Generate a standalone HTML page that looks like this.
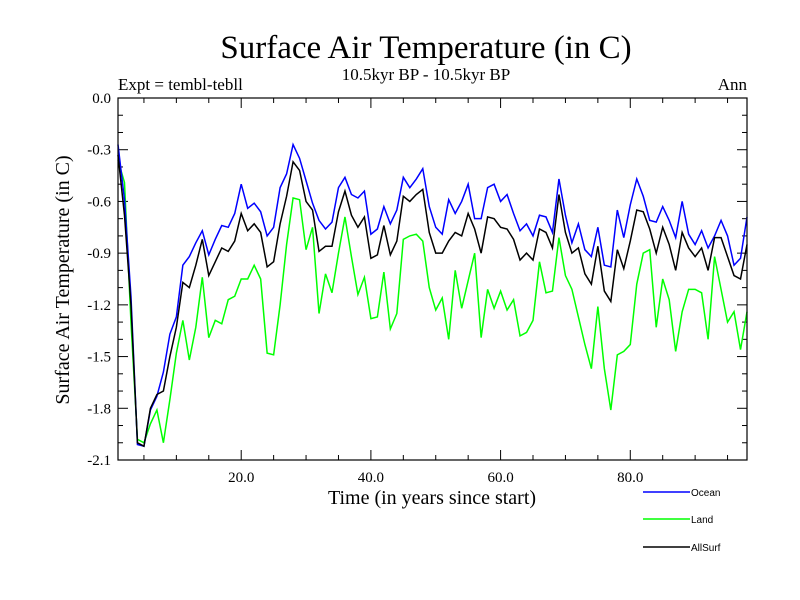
<!DOCTYPE html>
<html><head><meta charset="utf-8"><style>
body{margin:0;background:#fff;}
svg{display:block;font-family:"Liberation Serif",serif;}
</style></head><body>
<svg id="chart" width="800" height="600" viewBox="0 0 800 600">
<rect width="800" height="600" fill="#fff"/>
<text x="426" y="58" font-size="33" text-anchor="middle">Surface Air Temperature (in C)</text>
<text x="426" y="80" font-size="17" text-anchor="middle">10.5kyr BP - 10.5kyr BP</text>
<text x="118" y="90" font-size="17">Expt = tembl-tebll</text>
<text x="747" y="90" font-size="17" text-anchor="end">Ann</text>
<text transform="translate(69,280) rotate(-90)" font-size="20" text-anchor="middle">Surface Air Temperature (in C)</text>
<text x="432" y="504" font-size="20" text-anchor="middle">Time (in years since start)</text>
<g id="ticks"></g>
<g id="series"></g>
<rect x="118" y="98" width="629" height="362" fill="none" stroke="#000" stroke-width="1.2"/>
<g font-family="Liberation Sans, sans-serif" font-size="10">
<g><line x1="643" y1="492" x2="690" y2="492" stroke="#0000ff" stroke-width="1.5"/><text x="691" y="496">Ocean</text></g>
<g><line x1="643" y1="519" x2="690" y2="519" stroke="#00ff00" stroke-width="1.5"/><text x="691" y="523">Land</text></g>
<g><line x1="643" y1="547" x2="690" y2="547" stroke="#000" stroke-width="1.5"/><text x="691" y="551">AllSurf</text></g>
</g>
</svg>
<script>
const ocean=[-0.27,-0.59,-1.15,-2.01,-2.02,-1.81,-1.73,-1.59,-1.37,-1.27,-0.97,-0.92,-0.84,-0.77,-0.91,-0.82,-0.74,-0.75,-0.67,-0.50,-0.64,-0.61,-0.66,-0.80,-0.75,-0.52,-0.44,-0.27,-0.35,-0.48,-0.61,
-0.71,-0.76,-0.72,-0.52,-0.46,-0.56,-0.58,-0.54,-0.79,-0.76,-0.63,-0.73,-0.65,-0.46,-0.52,-0.47,-0.41,-0.63,-0.75,-0.79,-0.59,-0.67,-0.6,-0.5,-0.7,-0.7,-0.52,-0.5,-0.6,-0.56,-0.67,-0.77,-0.73,-0.8,
-0.68,-0.69,-0.78,-0.47,-0.68,-0.84,-0.73,-0.88,-0.92,-0.75,-0.97,-0.98,-0.65,-0.81,-0.62,-0.47,-0.57,-0.71,-0.72,-0.63,-0.71,-0.81,-0.6,-0.79,-0.85,-0.77,-0.87,-0.8,-0.71,-0.8,-0.97,-0.93,-0.69];
const allsurf=[-0.33,-0.68,-1.2,-2.0,-2.02,-1.8,-1.72,-1.70,-1.50,-1.33,-1.07,-1.1,-0.97,-0.82,-1.03,-0.95,-0.87,-0.89,-0.83,-0.67,-0.77,-0.73,-0.78,-0.98,-0.95,-0.73,-0.57,-0.37,-0.42,-0.6,-0.65,
-0.89,-0.86,-0.86,-0.66,-0.54,-0.68,-0.75,-0.69,-0.93,-0.91,-0.74,-0.91,-0.83,-0.57,-0.6,-0.56,-0.53,-0.78,-0.9,-0.9,-0.83,-0.78,-0.8,-0.67,-0.76,-0.9,-0.69,-0.7,-0.75,-0.76,-0.82,-0.94,-0.9,-0.94,
-0.76,-0.78,-0.87,-0.56,-0.78,-0.90,-0.87,-1.02,-1.08,-0.86,-1.12,-1.18,-0.88,-0.99,-0.83,-0.65,-0.66,-0.76,-0.90,-0.75,-0.85,-1.0,-0.78,-0.87,-0.92,-0.87,-1.0,-0.81,-0.81,-0.92,-1.03,-1.05,-0.85];
const land=[-0.36,-0.49,-1.3,-1.98,-2.0,-1.89,-1.81,-2.0,-1.75,-1.48,-1.29,-1.52,-1.33,-1.04,-1.39,-1.29,-1.31,-1.17,-1.15,-1.05,-1.05,-0.97,-1.05,-1.48,-1.49,-1.2,-0.85,-0.58,-0.59,-0.88,-0.75,
-1.25,-1.02,-1.13,-0.9,-0.69,-0.92,-1.14,-1.04,-1.28,-1.27,-1.01,-1.34,-1.25,-0.82,-0.8,-0.79,-0.83,-1.1,-1.23,-1.16,-1.4,-1.0,-1.22,-1.06,-0.9,-1.39,-1.11,-1.22,-1.12,-1.23,-1.17,-1.38,-1.36,-1.29,
-0.95,-1.13,-1.12,-0.81,-1.03,-1.11,-1.27,-1.43,-1.57,-1.21,-1.57,-1.81,-1.49,-1.47,-1.43,-1.08,-0.9,-0.88,-1.33,-1.05,-1.17,-1.47,-1.24,-1.11,-1.11,-1.13,-1.40,-0.92,-1.11,-1.30,-1.24,-1.46,-1.24];
const xTickLabels=[20,40,60,80];
const yTickLabels=[0.0,-0.3,-0.6,-0.9,-1.2,-1.5,-1.8,-2.1];
const X0=118,X1=747,Y0=98,Y1=460,XMIN=1,XMAX=98,YMIN=-2.1,YMAX=0;
const xs=v=>X0+(v-XMIN)/(XMAX-XMIN)*(X1-X0);
const ys=v=>Y0+(YMAX-v)/(YMAX-YMIN)*(Y1-Y0);
const NS='http://www.w3.org/2000/svg';
const tg=document.getElementById('ticks'),sg=document.getElementById('series');
function ln(x1,y1,x2,y2,p){const l=document.createElementNS(NS,'line');l.setAttribute('x1',x1);l.setAttribute('y1',y1);l.setAttribute('x2',x2);l.setAttribute('y2',y2);l.setAttribute('stroke','#000');l.setAttribute('stroke-width','1');p.appendChild(l);return l;}
for(let k=0;k<=21;k++){const v=-k*0.1,y=ys(v),maj=k%3===0,len=maj?10:5;
 const a=ln(X0,y,X0+len,y,tg);
 const b=ln(X1,y,X1-len,y,tg);}
yTickLabels.forEach(v=>{const t=document.createElementNS(NS,'text');t.setAttribute('x',X0-7);t.setAttribute('y',ys(v)+5);t.setAttribute('font-size','15');t.setAttribute('text-anchor','end');t.textContent=v.toFixed(1);
 
 
 tg.appendChild(t);});
for(let v=5;v<XMAX;v+=5){const x=xs(v),maj=v%20===0,len=maj?10:5;
 const a=ln(x,Y1,x,Y1-len,tg);
 const b=ln(x,Y0,x,Y0+len,tg);}
xTickLabels.forEach(v=>{const t=document.createElementNS(NS,'text');t.setAttribute('x',xs(v));t.setAttribute('y',Y1+22);t.setAttribute('font-size','15');t.setAttribute('text-anchor','middle');t.textContent=v.toFixed(1);
 
 
 tg.appendChild(t);});
function line(data,color,name){const p=document.createElementNS(NS,'polyline');
 p.setAttribute('points',data.map((v,i)=>xs(XMIN+i).toFixed(2)+','+ys(v).toFixed(2)).join(' '));
 p.setAttribute('fill','none');p.setAttribute('stroke',color);p.setAttribute('stroke-width','1.5');
 
 
 sg.appendChild(p);}
line(land,'#00ff00','land-line');
line(ocean,'#0000ff','ocean-line');
line(allsurf,'#000000','allsurf-line');
</script>
</body></html>
